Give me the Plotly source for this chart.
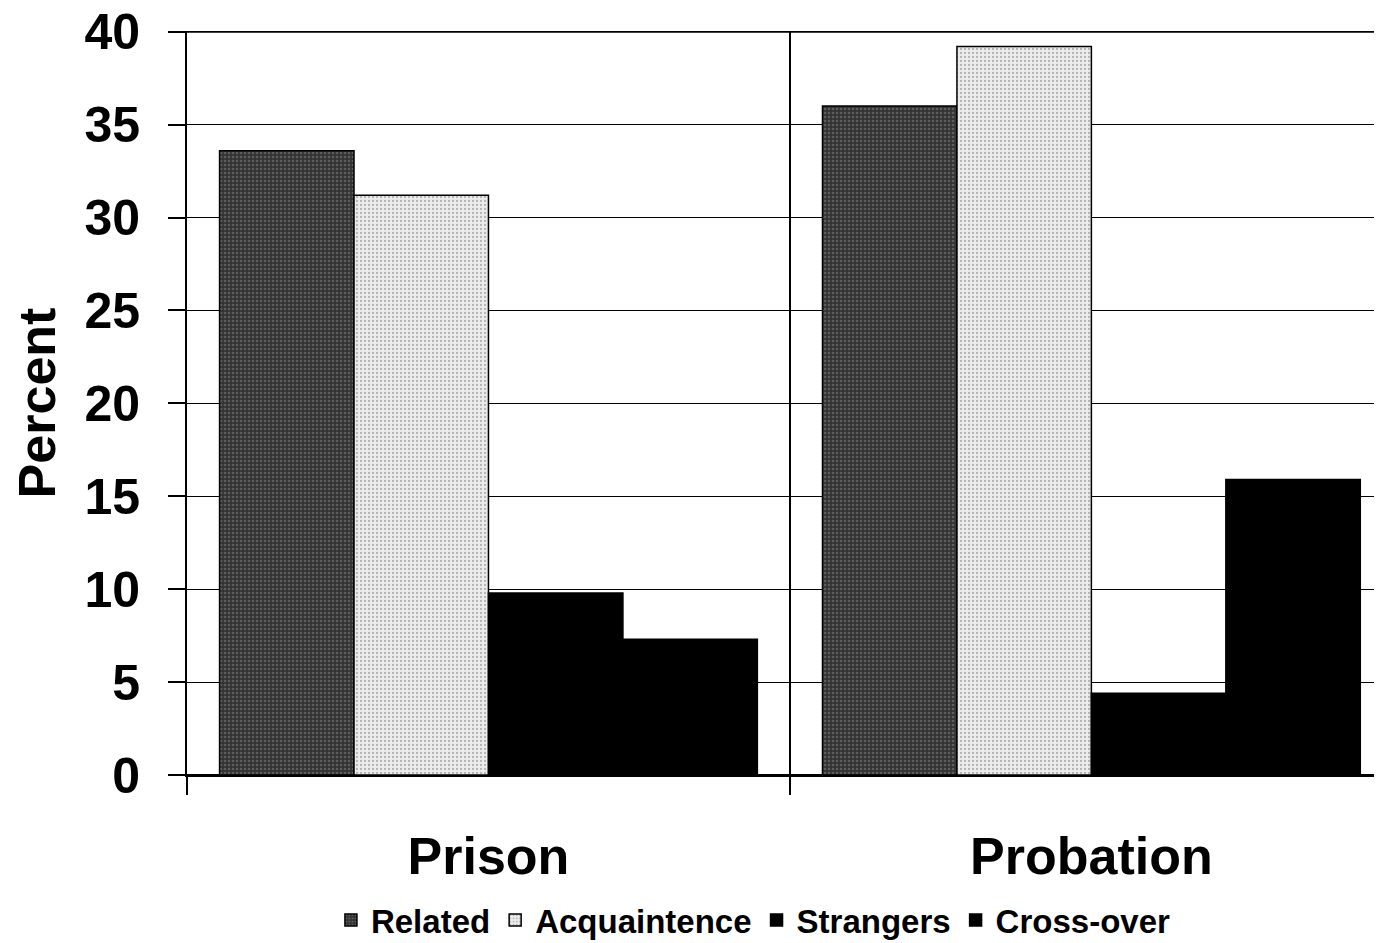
import plotly.graph_objects as go

categories = ["Prison", "Probation"]
series_names = ["Related", "Acquaintence", "Strangers", "Cross-over"]
related = [33.6, 36.0]
acquaintence = [31.2, 39.2]
strangers = [9.8, 4.4]
crossover = [7.3, 15.9]
y_ticks = [0, 5, 10, 15, 20, 25, 30, 35, 40]

values = [related, acquaintence, strangers, crossover]
styles = [
    dict(color="#4a4a4a", pattern=dict(shape=".", fgcolor="#8a8a8a", bgcolor="#333333", size=4, solidity=0.35)),
    dict(color="#dcdcdc", pattern=dict(shape=".", fgcolor="#7a7a7a", bgcolor="#ececec", size=4, solidity=0.25)),
    dict(color="#000000"),
    dict(color="#000000"),
]

fig = go.Figure()
for name, vals, st in zip(series_names, values, styles):
    marker = dict(line=dict(color="#000000", width=1.5))
    marker.update(st)
    fig.add_trace(go.Bar(x=categories, y=vals, name=name, marker=marker))

fig.update_layout(
    width=1374, height=935,
    margin=dict(l=179, r=0, t=23, b=168, autoexpand=False),
    paper_bgcolor="white", plot_bgcolor="white",
    barmode="group", bargap=0.108, bargroupgap=0.0,
    font=dict(family="Liberation Sans, Arial, sans-serif", color="black"),
    legend=dict(orientation="h", x=0.474, xanchor="center", y=-0.195, yanchor="middle",
                font=dict(size=33, weight="bold"), itemwidth=30, tracegroupgap=0,
                bgcolor="rgba(0,0,0,0)"),
)
fig.add_shape(type="line", xref="paper", yref="y", x0=0, x1=1, y0=40, y1=40,
              line=dict(color="black", width=2), layer="above")
fig.update_yaxes(
    range=[0, 40.04], tickvals=y_ticks, showgrid=True, gridcolor="black", gridwidth=1.2,
    showline=True, linecolor="black", linewidth=2, ticks="outside", ticklen=17, tickwidth=2,
    tickcolor="black", tickfont=dict(size=50, weight="bold"), ticklabelstandoff=18,
    ticklabeloverflow="allow",
    title=dict(text="Percent", font=dict(size=52, weight="bold"), standoff=20),
    zeroline=True, zerolinecolor="black", zerolinewidth=2, automargin=False,
)
fig.update_xaxes(
    type="category", range=[-0.5, 1.482], tickson="boundaries", ticks="outside", ticklen=18,
    tickwidth=2, tickcolor="black", showgrid=True, gridcolor="black", gridwidth=2,
    showline=True, linecolor="black", linewidth=2, automargin=False,
    ticklabeloverflow="allow",
    tickfont=dict(size=52, weight="bold"), ticklabelstandoff=35,
)

fig.write_html("out.html")
